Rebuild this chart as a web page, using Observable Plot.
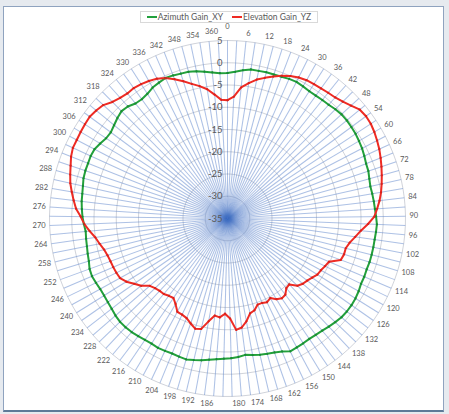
<!DOCTYPE html>
<html><head><meta charset="utf-8">
<script src="https://cdn.jsdelivr.net/npm/d3@7"></script>
<script src="https://cdn.jsdelivr.net/npm/@observablehq/plot@0.6"></script>
<style>
html,body{margin:0;padding:0;background:#e6eaef;}
#wrap{position:relative;width:449px;height:414px;overflow:hidden;background:#e6eaef;}
#panel{position:absolute;left:3px;top:6px;width:441px;height:406px;background:#fff;border:1px solid #8fa3bf;border-bottom:2px solid #5d7a98;box-sizing:border-box;}
#chart{position:absolute;left:0;top:0;}
#legend{position:absolute;left:140px;top:11px;width:178px;height:12px;border:1px solid #d9d9d9;box-sizing:border-box;display:flex;align-items:center;justify-content:center;gap:9px;font-family:Lato,sans-serif;font-size:8.5px;color:#595959;background:#fff;white-space:nowrap;}
.sw{display:inline-block;width:10px;height:2px;vertical-align:middle;margin-right:1px;position:relative;top:-1px;}
</style></head>
<body>
<div id="wrap"><div id="panel"></div><div id="chart"></div><div id="legend"></div></div>
<script>
const categories = [0,3,6,9,12,15,18,21,24,27,30,33,36,39,42,45,48,51,54,57,60,63,66,69,72,75,78,81,84,87,90,93,96,99,102,105,108,111,114,117,120,123,126,129,132,135,138,141,144,147,150,153,156,159,162,165,168,171,174,177,180,183,186,189,192,195,198,201,204,207,210,213,216,219,222,225,228,231,234,237,240,243,246,249,252,255,258,261,264,267,270,273,276,279,282,285,288,291,294,297,300,303,306,309,312,315,318,321,324,327,330,333,336,339,342,345,348,351,354,357,360];
const azimuthGain = [-2.3,-2.0,-1.5,-1.1,-1.1,-1.0,-1.0,-0.9,-0.7,-0.6,-0.8,-1.0,-1.0,-0.9,-0.8,-0.5,-0.3,-0.3,-0.4,-0.5,-0.7,-0.9,-1.2,-1.5,-1.6,-1.9,-2.1,-2.0,-1.9,-1.8,-1.6,-1.4,-1.5,-1.6,-1.6,-1.6,-1.6,-1.7,-1.6,-1.6,-1.3,-1.1,-1.0,-1.0,-1.1,-1.4,-1.7,-2.0,-2.2,-2.3,-2.2,-2.1,-2.0,-2.7,-3.1,-3.3,-3.5,-3.8,-4.1,-3.8,-3.6,-3.5,-3.3,-3.0,-2.6,-2.3,-2.0,-2.1,-2.2,-2.1,-2.0,-2.1,-2.0,-1.8,-1.6,-1.5,-1.5,-1.7,-2.0,-2.2,-2.3,-2.3,-2.1,-1.9,-2.0,-2.4,-2.6,-2.8,-2.9,-3.0,-2.7,-2.4,-2.2,-2.0,-1.9,-1.7,-1.4,-1.3,-1.3,-1.2,-1.3,-1.8,-2.3,-2.4,-2.0,-1.5,-1.1,-1.3,-1.9,-2.0,-1.7,-1.1,-0.8,-0.5,-0.6,-0.8,-0.9,-1.2,-1.6,-2.0,-2.3];
const elevationGain = [-8.4,-7.6,-5.4,-4.2,-3.1,-2.3,-1.5,-0.7,0.0,0.5,0.8,0.9,1.0,1.2,1.4,1.9,2.6,3.5,3.7,3.6,3.3,2.9,2.5,2.0,1.5,1.0,0.5,0.0,-0.6,-1.3,-2.0,-3.4,-4.9,-6.0,-7.0,-7.6,-7.6,-7.9,-10.2,-10.6,-11.0,-11.2,-11.8,-12.3,-12.6,-13.2,-14.7,-14.5,-13.5,-13.3,-13.8,-14.7,-14.2,-14.5,-14.5,-13.5,-13.1,-11.5,-10.3,-9.9,-12.5,-13.6,-12.7,-13.0,-11.5,-9.5,-9.2,-10.0,-10.8,-11.1,-11.2,-12.5,-13.4,-13.2,-12.8,-12.7,-12.4,-11.9,-10.4,-9.4,-8.2,-7.4,-7.2,-7.1,-7.0,-6.8,-6.4,-5.7,-5.0,-3.9,-2.8,-2.0,-0.9,-0.2,0.5,1.2,1.7,2.2,2.8,3.2,3.2,3.3,3.4,3.5,3.2,2.8,1.8,1.3,1.0,1.1,0.9,0.6,0.2,-0.5,-1.5,-2.6,-3.7,-4.6,-5.6,-7.0,-8.3];
const radialTicks = [-35,-30,-25,-20,-15,-10,-5,0,5];
const seriesNames = ["Azimuth Gain_XY","Elevation Gain_YZ"];
const seriesColors = ["#22a03c","#ee2b24"];

const R = 178;
const rScale = d3.scaleLinear().domain([-35, 5]).range([0, R]);
const n = categories.length;
const ang = i => i * 2 * Math.PI / n;
const px = (i, r) => r * Math.sin(ang(i));
const py = (i, r) => r * Math.cos(ang(i));

// rings
const ringRows = [];
radialTicks.filter(v => v > -35).forEach(v => {
  for (let i = 0; i <= n; i++) ringRows.push({v, x: px(i % n, rScale(v)), y: py(i % n, rScale(v))});
});
// series
const seriesRows = [];
[azimuthGain, elevationGain].forEach((vals, s) => {
  for (let i = 0; i <= n; i++) {
    const k = i % n;
    seriesRows.push({s: seriesNames[s], x: px(k, rScale(vals[k])), y: py(k, rScale(vals[k]))});
  }
});
// category labels (every second category)
const LG = R + 4;
const labelRows = categories.map((d, i) => ({d, i})).filter(o => o.d % 6 === 0).map(o => {
  const a = ang(o.i), s = Math.sin(a), c = Math.cos(a);
  const extra = o.d === 0 ? 6 : (o.d === 360 ? 2 : 0);
  return {text: String(o.d), s, x: s * LG, y: c * LG + c * 3.5 + extra};
});

const chart = Plot.plot({
  width: 449, height: 414, margin: 0,
  x: {domain: [-227, 222], axis: null},
  y: {domain: [-196, 218], axis: null},
  style: {background: "transparent", fontFamily: "Lato, sans-serif", overflow: "visible"},
  marks: [
    Plot.line(ringRows, {x: "x", y: "y", z: "v", stroke: "#c4c8d0", strokeWidth: 0.8}),
    Plot.link(categories, {x1: 0, y1: 0, x2: (d, i) => px(i, R), y2: (d, i) => py(i, R), stroke: "#4472c4", strokeOpacity: 0.44, strokeWidth: 1.05}),
    Plot.text(radialTicks, {x: 0, y: v => rScale(v), text: v => String(v), dx: -5, textAnchor: "end", fontSize: 9.5, fill: "#595959"}),
    Plot.text(labelRows.filter(o => o.s > 0.02), {x: "x", y: "y", text: "text", textAnchor: "start", fontSize: 7.5, fill: "#595959"}),
    Plot.text(labelRows.filter(o => o.s < -0.02), {x: "x", y: "y", text: "text", textAnchor: "end", fontSize: 7.5, fill: "#595959"}),
    Plot.text(labelRows.filter(o => Math.abs(o.s) <= 0.02), {x: "x", y: "y", text: "text", textAnchor: "middle", fontSize: 7.5, fill: "#595959"}),
    Plot.line(seriesRows, {x: "x", y: "y", z: "s", stroke: d => seriesColors[seriesNames.indexOf(d.s)], strokeWidth: 2, strokeLinejoin: "round"}),
    Plot.dot(seriesRows, {x: "x", y: "y", r: 1.1, fill: d => d.s === seriesNames[0] ? "#1a8a32" : "#d8221c", stroke: "none"})
  ]
});
document.getElementById("chart").appendChild(chart);

const lg = document.getElementById("legend");
seriesNames.forEach((nm, i) => {
  const sp = document.createElement("span");
  sp.innerHTML = `<span class="sw" style="background:${seriesColors[i]}"></span>${nm}`;
  lg.appendChild(sp);
});
</script>
</body></html>
